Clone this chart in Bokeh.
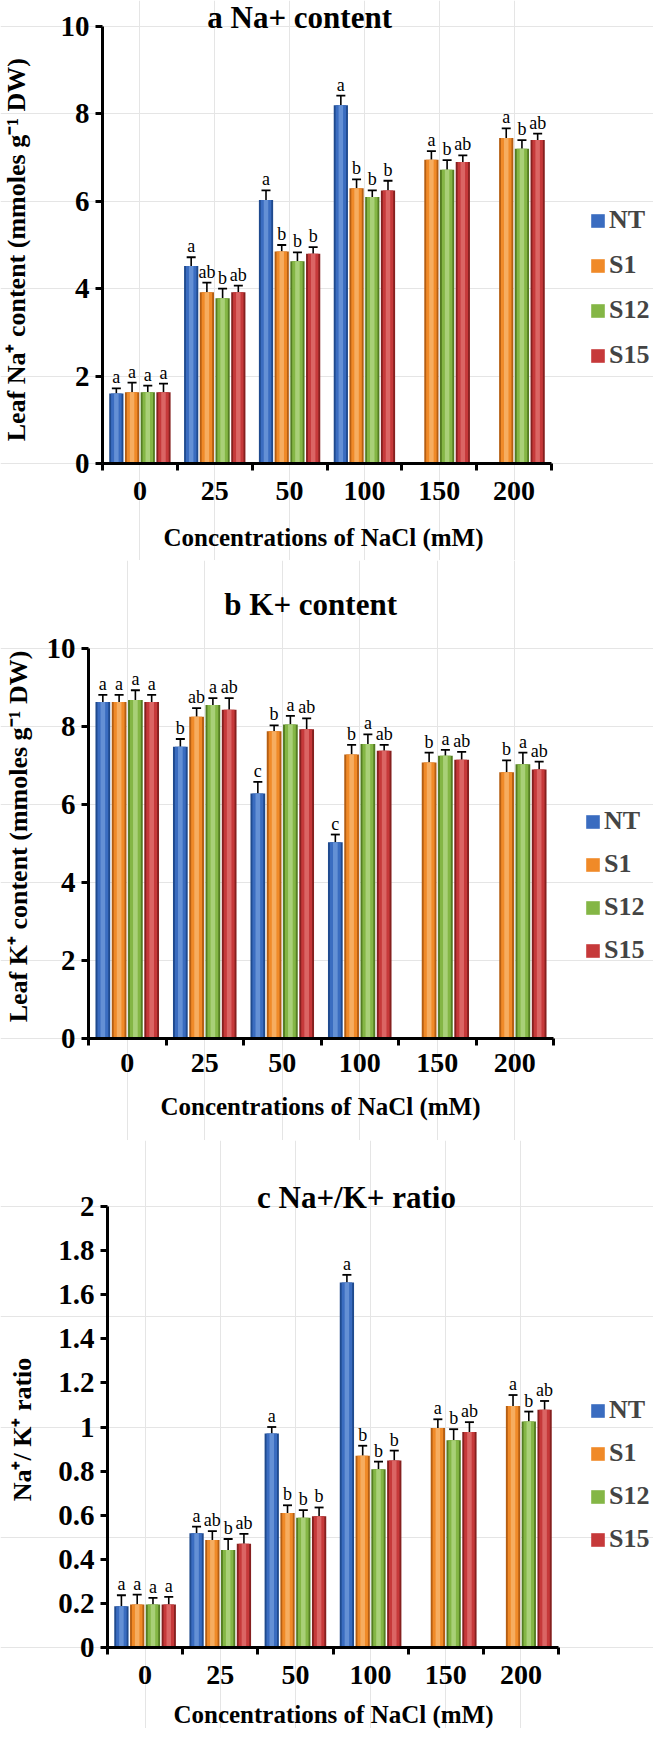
import math
import numpy as np
from bokeh.plotting import figure
from bokeh.models import (ColumnDataSource, Range1d, FixedTicker, Whisker, TeeHead,
                          Legend, LegendItem, Label, LinearAxis, NumeralTickFormatter)
from bokeh.layouts import column
from bokeh.transform import dodge
from bokeh.core.properties import value
from bokeh.embed import file_html
from bokeh.resources import INLINE

nan = float("nan")

categories = ["0", "25", "50", "100", "150", "200"]
series = ["NT", "S1", "S12", "S15"]

# ---- a: leaf Na+ content ----
na_NT = [1.60, 4.52, 6.03, 8.20, nan, nan]
na_S1 = [1.63, 3.92, 4.85, 6.30, 6.95, 7.45]
na_S12 = [1.63, 3.78, 4.63, 6.10, 6.72, 7.20]
na_S15 = [1.63, 3.92, 4.80, 6.25, 6.90, 7.40]
na_err_NT = [0.12, 0.20, 0.22, 0.22, nan, nan]
na_err_S1 = [0.22, 0.22, 0.15, 0.20, 0.20, 0.22]
na_err_S12 = [0.15, 0.22, 0.20, 0.15, 0.22, 0.20]
na_err_S15 = [0.20, 0.15, 0.15, 0.22, 0.15, 0.15]
na_sig_NT = ["a", "a", "a", "a", "", ""]
na_sig_S1 = ["a", "ab", "b", "b", "a", "a"]
na_sig_S12 = ["a", "b", "b", "b", "b", "b"]
na_sig_S15 = ["a", "ab", "b", "b", "ab", "ab"]

# ---- b: leaf K+ content ----
k_NT = [8.63, 7.48, 6.28, 5.03, nan, nan]
k_S1 = [8.63, 8.25, 7.88, 7.28, 7.08, 6.83]
k_S12 = [8.68, 8.55, 8.05, 7.55, 7.25, 7.03]
k_S15 = [8.63, 8.43, 7.93, 7.38, 7.15, 6.90]
k_err_NT = [0.18, 0.20, 0.30, 0.20, nan, nan]
k_err_S1 = [0.18, 0.22, 0.15, 0.25, 0.25, 0.30]
k_err_S12 = [0.25, 0.18, 0.22, 0.25, 0.15, 0.30]
k_err_S15 = [0.18, 0.30, 0.28, 0.15, 0.20, 0.20]
k_sig_NT = ["a", "b", "c", "c", "", ""]
k_sig_S1 = ["a", "ab", "b", "b", "b", "b"]
k_sig_S12 = ["a", "a", "a", "a", "a", "a"]
k_sig_S15 = ["a", "ab", "ab", "ab", "ab", "ab"]

# ---- c: Na+/K+ ratio ----
r_NT = [0.187, 0.518, 0.970, 1.655, nan, nan]
r_S1 = [0.195, 0.488, 0.610, 0.870, 0.995, 1.095]
r_S12 = [0.195, 0.442, 0.588, 0.808, 0.940, 1.025]
r_S15 = [0.195, 0.470, 0.595, 0.848, 0.977, 1.078]
r_err_NT = [0.050, 0.030, 0.030, 0.035, nan, nan]
r_err_S1 = [0.045, 0.040, 0.035, 0.045, 0.040, 0.050]
r_err_S12 = [0.030, 0.050, 0.035, 0.035, 0.050, 0.045]
r_err_S15 = [0.035, 0.045, 0.040, 0.045, 0.045, 0.040]
r_sig_NT = ["a", "a", "a", "a", "", ""]
r_sig_S1 = ["a", "ab", "b", "b", "a", "a"]
r_sig_S12 = ["a", "b", "b", "b", "b", "b"]
r_sig_S15 = ["a", "ab", "b", "b", "ab", "ab"]

yticks_ab = [0, 2, 4, 6, 8, 10]
yticks_c = [0, 0.2, 0.4, 0.6, 0.8, 1.0, 1.2, 1.4, 1.6, 1.8, 2.0]
xlabel = "Concentrations of NaCl (mM)"

# colours: (dark edge, base, highlight)
COLORS = {
    "NT": ("#1f4a8e", "#3a6cc0", "#6f9ad9"),
    "S1": ("#b55e12", "#f08a28", "#f8b56e"),
    "S12": ("#547d22", "#84b645", "#b3d784"),
    "S15": ("#86201f", "#c6393a", "#e0706f"),
}
OFFSETS = [-0.315, -0.105, 0.105, 0.315]
FONT = "Liberation Serif"
W = 653


def make_panel(title, ylabel, ymax, yticks, vals, errs, sigs, g):
    n = len(categories)
    H = g["h"]
    PL, PR, PT, PB = g["plot"]
    ux = n / (PR - PL)
    uy = ymax / (PB - PT)
    p = figure(width=W, height=H, output_backend="svg", toolbar_location=None,
               x_axis_location=None, y_axis_location=None,
               x_range=Range1d(-0.5 - PL * ux, -0.5 + (W - PL) * ux),
               y_range=Range1d(-(H - PB) * uy, ymax + PT * uy),
               min_border=0, min_border_left=0, min_border_right=0,
               min_border_top=0, min_border_bottom=0)
    p.outline_line_color = None
    p.background_fill_color = "white"
    p.border_fill_color = "white"

    items = []
    for s, off in zip(series, OFFSETS):
        v = np.array(vals[s], dtype=float)
        e = np.array(errs[s], dtype=float)
        keep = np.isfinite(v)
        idx = np.arange(n, dtype=float)[keep]
        src = ColumnDataSource(dict(x=idx, top=v[keep], hi=(v + e)[keep],
                                    sig=[t for t, k in zip(sigs[s], keep) if k]))
        dark, base, light = COLORS[s]
        xs = dodge("x", off)
        p.vbar(x=xs, top="top", width=0.19, source=src, fill_color=dark, line_color=None)
        rb = p.vbar(x=xs, top="top", width=0.14, source=src, fill_color=base, line_color=None)
        p.vbar(x=xs, top="top", width=0.06, source=src, fill_color=light, line_color=None,
               fill_alpha=0.8)
        p.add_layout(Whisker(source=src, base=xs, upper="hi", lower="top", dimension="height",
                             line_color="black", line_width=1.6,
                             upper_head=TeeHead(size=9, line_color="black", line_width=1.8),
                             lower_head=None))
        p.text(x=xs, y="hi", text="sig", source=src, text_align="center",
               text_baseline="bottom", text_font=value(FONT), text_font_size=value("18px"),
               text_color="black", y_offset=-1)
        items.append(LegendItem(label=s, renderers=[rb]))

    lx, ly = g["leg"]
    leg = Legend(items=items, location=(lx, ly), orientation="vertical",
                 glyph_width=17, glyph_height=17, label_height=26, spacing=g["lsp"],
                 label_standoff=3, padding=0, margin=0, border_line_color=None,
                 background_fill_alpha=0, label_text_font=FONT,
                 label_text_font_style="bold", label_text_font_size="26px")
    p.add_layout(leg, "center")

    # x axis drawn at y = 0
    xa = LinearAxis(fixed_location=0, bounds=(-0.5, n - 0.5))
    xa.ticker = FixedTicker(ticks=list(range(n)), minor_ticks=[i - 0.5 for i in range(n + 1)])
    xa.major_label_overrides = {i: c for i, c in enumerate(categories)}
    xa.major_tick_line_color = None
    xa.major_tick_out = 0
    xa.major_tick_in = 0
    xa.minor_tick_out = 7
    xa.minor_tick_in = 0
    xa.minor_tick_line_width = 3
    xa.minor_tick_line_color = "black"
    xa.axis_line_width = 3
    xa.axis_line_color = "black"
    xa.major_label_standoff = g["xstand"]
    xa.major_label_text_font = FONT
    xa.major_label_text_font_style = "bold"
    xa.major_label_text_font_size = "28px"
    xa.major_label_text_color = "black"
    p.add_layout(xa, "below")

    # y axis drawn at the left edge of the first group
    ya = LinearAxis(fixed_location=-0.5, bounds=(0, ymax))
    ya.ticker = FixedTicker(ticks=yticks)
    ya.formatter = NumeralTickFormatter(format="0.[0]")
    ya.minor_tick_line_color = None
    ya.major_tick_out = 7
    ya.major_tick_in = 0
    ya.major_tick_line_width = 3
    ya.major_tick_line_color = "black"
    ya.axis_line_width = 3
    ya.axis_line_color = "black"
    ya.major_label_standoff = 6
    ya.major_label_text_font = FONT
    ya.major_label_text_font_style = "bold"
    ya.major_label_text_font_size = "29px"
    ya.major_label_text_color = "black"
    p.add_layout(ya, "left")

    def lab(text, xy, size, angle=0.0):
        p.add_layout(Label(x=xy[0], y=H - xy[1], x_units="screen", y_units="screen",
                           text=text, angle=angle, text_align="center",
                           text_baseline="middle", text_font=FONT, text_font_style="bold",
                           text_font_size=size, text_color="black"))

    lab(title, g["title"], "31px")
    lab(xlabel, g["xlab"], "25px")
    lab(ylabel, g["ylab"], "26px", angle=math.pi / 2)
    return p


vals_a = {"NT": na_NT, "S1": na_S1, "S12": na_S12, "S15": na_S15}
errs_a = {"NT": na_err_NT, "S1": na_err_S1, "S12": na_err_S12, "S15": na_err_S15}
sigs_a = {"NT": na_sig_NT, "S1": na_sig_S1, "S12": na_sig_S12, "S15": na_sig_S15}
vals_b = {"NT": k_NT, "S1": k_S1, "S12": k_S12, "S15": k_S15}
errs_b = {"NT": k_err_NT, "S1": k_err_S1, "S12": k_err_S12, "S15": k_err_S15}
sigs_b = {"NT": k_sig_NT, "S1": k_sig_S1, "S12": k_sig_S12, "S15": k_sig_S15}
vals_c = {"NT": r_NT, "S1": r_S1, "S12": r_S12, "S15": r_S15}
errs_c = {"NT": r_err_NT, "S1": r_err_S1, "S12": r_err_S12, "S15": r_err_S15}
sigs_c = {"NT": r_sig_NT, "S1": r_sig_S1, "S12": r_sig_S12, "S15": r_sig_S15}

# layout geometry in figure pixels (x from left, y from top)
ga = dict(h=560, plot=(102, 551, 26, 463), title=(303, 17), xlab=(323, 537),
          ylab=(16, 246), leg=(589, 190), lsp=15, xstand=11)
gb = dict(h=580, plot=(88, 553, 88, 478), title=(314, 44), xlab=(320, 546),
          ylab=(18, 276), leg=(584, 175), lsp=13, xstand=8)
gc = dict(h=588, plot=(107, 558, 66, 507), title=(356, 57), xlab=(333, 574),
          ylab=(22, 289), leg=(589, 174), lsp=13, xstand=11)

pa = make_panel("a  Na+ content", "Leaf  Na\u207a content (mmoles g\u207b\u00b9 DW)", 10,
                yticks_ab, vals_a, errs_a, sigs_a, ga)
pb = make_panel("b  K+ content", "Leaf K\u207a content (mmoles g\u207b\u00b9 DW)", 10,
                yticks_ab, vals_b, errs_b, sigs_b, gb)
pc = make_panel("c Na+/K+ ratio", "Na\u207a/ K\u207a ratio", 2,
                yticks_c, vals_c, errs_c, sigs_c, gc)

layout = column(pa, pb, pc, spacing=0)
open("out.html", "w").write(file_html(layout, INLINE))
